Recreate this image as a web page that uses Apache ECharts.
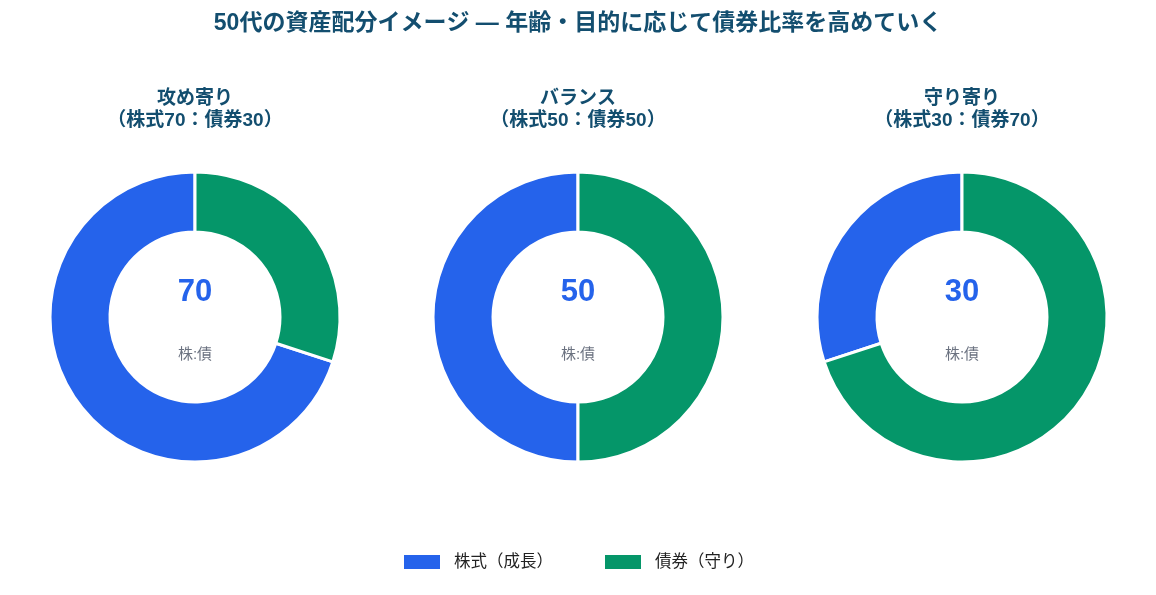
<!DOCTYPE html>
<html>
<head>
    <meta charset="utf-8">
    <title>50代の資産配分イメージ</title>
    <script src="https://cdn.jsdelivr.net/npm/echarts@6/dist/echarts.min.js"></script>
    <style>
        html, body { margin: 0; padding: 0; background: #ffffff; }
        #main { width: 1156px; height: 595px; }
    </style>
</head>
<body>
<div id="main"></div>
<script>
    // データ
    var portfolios = ['攻め寄り', 'バランス', '守り寄り'];
    var stockShare = [70, 50, 30];
    var bondShare = [30, 50, 70];
    var assetNames = ['株式（成長）', '債券（守り）'];

    var font = '"Liberation Sans", "Noto Sans CJK JP", sans-serif';
    var navy = '#134e6f';
    var centersX = [195, 578, 962];
    var centerY = 317;

    var chart = echarts.init(document.getElementById('main'));

    var titles = [{
        text: '50代の資産配分イメージ — 年齢・目的に応じて債券比率を高めていく',
        left: 'center',
        top: 7,
        textStyle: {fontFamily: font, fontSize: 23, fontWeight: 'bold', color: navy}
    }];
    var series = [];

    for (var i = 0; i < portfolios.length; i++) {
        titles.push({
            text: portfolios[i] + '\n（株式' + stockShare[i] + '：債券' + bondShare[i] + '）',
            left: centersX[i],
            top: 88,
            padding: 0,
            textAlign: 'center',
            textStyle: {fontFamily: font, fontSize: 19, fontWeight: 'bold', color: navy, lineHeight: 22}
        });
        titles.push({
            text: String(stockShare[i]),
            left: centersX[i],
            top: 277,
            padding: 0,
            textAlign: 'center',
            textStyle: {fontFamily: font, fontSize: 31, fontWeight: 'bold', color: '#2563eb'}
        });
        titles.push({
            text: '株:債',
            left: centersX[i],
            top: 347,
            padding: 0,
            textAlign: 'center',
            textStyle: {fontFamily: font, fontSize: 15, fontWeight: 'normal', color: '#6b7280'}
        });
        series.push({
            name: portfolios[i],
            type: 'pie',
            center: [centersX[i], centerY],
            radius: [85, 145],
            startAngle: 90,
            clockwise: false,
            silent: true,
            label: {show: false},
            labelLine: {show: false},
            itemStyle: {borderColor: '#ffffff', borderWidth: 3},
            data: [
                {value: stockShare[i], name: assetNames[0]},
                {value: bondShare[i], name: assetNames[1]}
            ]
        });
    }

    chart.setOption({
        animation: false,
        color: ['#2563eb', '#059669'],
        title: titles,
        legend: {
            data: assetNames,
            bottom: 19,
            left: 'center',
            itemWidth: 38,
            itemHeight: 16,
            itemGap: 50,
            icon: 'rect',
            textStyle: {fontFamily: font, fontSize: 16.5, color: '#222222', padding: [0, 0, 0, 8]}
        },
        series: series
    });
</script>
</body>
</html>
